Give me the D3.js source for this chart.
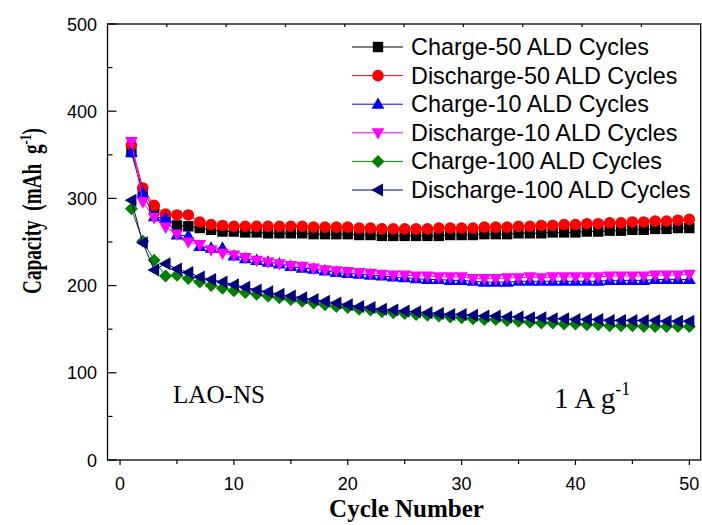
<!DOCTYPE html>
<html><head><meta charset="utf-8">
<script src="https://cdn.jsdelivr.net/npm/d3@7"></script>
<style>body{margin:0;background:#fff}svg{display:block}</style>
</head><body><svg id="c" width="702" height="525"></svg>
<script>
const cycles = d3.range(1, 51);
const charge50 = [353,308,288,277,269,268,266,264,262,262,261,261,260,260,260,260,259,259,259,259,258,258,257,257,257,257,257,257,258,258,258,259,259,259,260,260,260,261,261,261,262,262,263,263,264,264,265,265,266,266];
const discharge50 = [361,312,292,282,281,281,273,270,269,268,268,268,268,268,268,268,267,267,267,267,266,266,265,265,265,265,265,266,266,266,266,267,267,267,268,268,269,269,270,270,271,271,272,272,273,273,274,274,275,276];
const charge10 = [353,306,279,277,258,257,245,243,243,234,231,229,227,225,222,220,219,217,215,214,213,212,211,210,209,208,207,207,206,206,205,204,204,204,205,205,205,205,205,205,205,205,206,206,206,206,207,207,207,207];
const discharge10 = [365,296,278,267,259,250,247,241,237,235,232,229,227,225,223,222,220,218,217,216,215,214,213,212,212,211,211,210,210,210,208,208,208,209,209,210,209,210,210,210,210,210,211,211,211,211,212,212,212,213];
const charge100 = [288,251,229,211,212,208,204,200,197,194,192,190,188,186,184,182,180,178,176,175,173,172,170,169,168,167,166,165,164,163,162,161,161,160,159,158,157,157,156,156,155,155,154,154,154,153,153,153,153,153];
const discharge100 = [298,249,218,225,219,215,210,207,204,201,198,195,193,190,188,186,184,182,180,178,176,175,173,172,171,170,169,168,167,167,166,165,165,164,164,163,163,162,162,161,161,161,160,160,160,160,160,159,159,159];

const seriesNames = ["Charge-50 ALD Cycles","Discharge-50 ALD Cycles","Charge-10 ALD Cycles","Discharge-10 ALD Cycles","Charge-100 ALD Cycles","Discharge-100 ALD Cycles"];
const seriesValues = [charge50, discharge50, charge10, discharge10, charge100, discharge100];
const seriesColors = ["#000000","#ff0000","#0000ff","#ff00ff","#008000","#000080"];
const seriesShapes = ["square","circle","up","down","diamond","left"];

const xTicks = [0,10,20,30,40,50];
const xMinor = [5,15,25,35,45];
const yTicks = [0,100,200,300,400,500];
const yMinor = [50,150,250,350,450];

const svg = d3.select("#c");
const L = 107.5, R = 700.7, T = 24, B = 460;
const x = d3.scaleLinear().domain([-1.1, 51]).range([L, R]);
const y = d3.scaleLinear().domain([0, 500]).range([B, T]);

function shapePath(s) {
  switch (s) {
    case "square": return "M-5.2,-5.2H5.2V5.2H-5.2Z";
    case "circle": return d3.symbol(d3.symbolCircle, Math.PI*5.8*5.8)();
    case "up": return "M0,-6.8L6.4,4.6L-6.4,4.6Z";
    case "down": return "M0,6.8L6.4,-4.6L-6.4,-4.6Z";
    case "diamond": return "M0,-6.5L6.5,0L0,6.5L-6.5,0Z";
    case "left": return "M-6.8,0L5,-6.5L5,6.5Z";
  }
}

// series
const line = d3.line().x((d,i)=>x(cycles[i])).y(d=>y(d));
seriesValues.forEach((vals, k) => {
  const g = svg.append("g");
  g.append("path").attr("d", line(vals)).attr("fill","none")
    .attr("stroke", seriesColors[k]).attr("stroke-width", 1);
  g.selectAll("path.m").data(vals).enter().append("path").attr("class","m")
    .attr("d", shapePath(seriesShapes[k]))
    .attr("transform", (d,i)=>`translate(${x(cycles[i])},${y(d)})`)
    .attr("fill", seriesColors[k]);
});

// frame
svg.append("rect").attr("x", L).attr("y", T).attr("width", R-L).attr("height", B-T)
  .attr("fill","none").attr("stroke","#000").attr("stroke-width",1.3);

const ax = svg.append("g").attr("stroke","#000").attr("stroke-width",1.2);
xTicks.forEach(t => ax.append("line").attr("x1",x(t)).attr("x2",x(t)).attr("y1",B).attr("y2",B+5));
xMinor.forEach(t => ax.append("line").attr("x1",x(t)).attr("x2",x(t)).attr("y1",B).attr("y2",B+4));
d3.range(1,10).forEach(i => {
  const px = L + (R-L)*i/10;
  ax.append("line").attr("x1",px).attr("x2",px).attr("y1",T).attr("y2",T+3);
});
yTicks.forEach(t => ax.append("line").attr("x1",L).attr("x2",L+9).attr("y1",y(t)).attr("y2",y(t)));
yMinor.forEach(t => ax.append("line").attr("x1",L).attr("x2",L+5).attr("y1",y(t)).attr("y2",y(t)));

const sans = "'Liberation Sans', Arial, sans-serif";
const serif = "'Liberation Serif', 'Times New Roman', serif";

svg.append("g").selectAll("text").data(xTicks).enter().append("text")
  .attr("x", d=>x(d)).attr("y", 490).attr("text-anchor","middle")
  .attr("font-family", sans).attr("font-size", 18).text(d=>d);
svg.append("g").selectAll("text").data(yTicks).enter().append("text")
  .attr("x", 97).attr("y", d=>y(d)+6.5).attr("text-anchor","end")
  .attr("font-family", sans).attr("font-size", 18).text(d=>d);

svg.append("text").attr("x", 406.5).attr("y", 517).attr("text-anchor","middle")
  .attr("font-family", serif).attr("font-weight","bold").attr("font-size", 25)
  .text("Cycle Number");
const yt = svg.append("text").attr("transform","translate(41,211) rotate(-90)")
  .attr("text-anchor","middle").attr("font-family", serif).attr("font-weight","bold")
  .attr("font-size", 27).attr("textLength",166).attr("lengthAdjust","spacingAndGlyphs")
  .style("white-space","pre");
yt.append("tspan").text("Capacity  (mAh  g");
yt.append("tspan").attr("font-size",17).attr("dy",-10).text("-1");
yt.append("tspan").attr("dy",10).text(")");

svg.append("text").attr("x", 173).attr("y", 403).attr("font-family", serif)
  .attr("font-size", 26).attr("textLength",92).attr("lengthAdjust","spacingAndGlyphs").text("LAO-NS");
const ag = svg.append("text").attr("x", 554).attr("y", 408).attr("font-family", serif)
  .attr("font-size", 29);
ag.append("tspan").text("1 A g");
ag.append("tspan").attr("font-size",18).attr("dy",-13).text("-1");

const lg = svg.append("g");
seriesNames.forEach((name, k) => {
  const cy = 47 + k*28.6;
  lg.append("line").attr("x1",352).attr("x2",403).attr("y1",cy).attr("y2",cy)
    .attr("stroke", seriesColors[k]).attr("stroke-width",1);
  lg.append("path").attr("d", shapePath(seriesShapes[k])).attr("transform",`translate(378,${cy})`)
    .attr("fill", seriesColors[k]);
  lg.append("text").attr("x", 411).attr("y", cy+8).attr("font-family", sans)
    .attr("font-size", 23.4).text(name);
});
</script></body></html>
